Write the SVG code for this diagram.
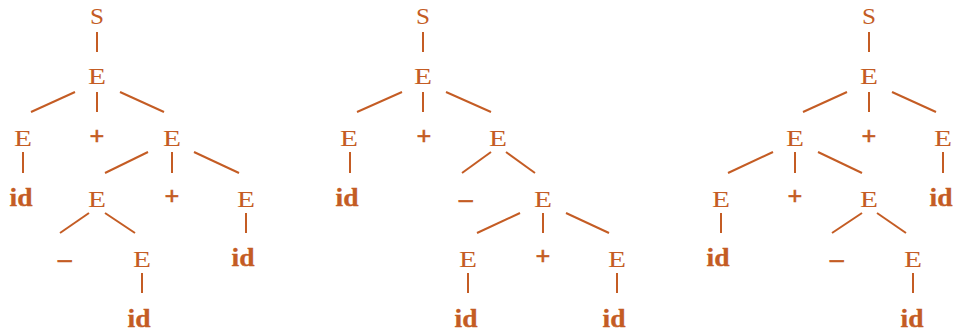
<svg xmlns="http://www.w3.org/2000/svg" width="953" height="333" viewBox="0 0 953 333">
<style>
text{font-family:"Liberation Serif","Times New Roman",serif;fill:#c45c24;text-anchor:middle}
.n{font-size:23px}
.b{font-size:25px;font-weight:bold;stroke:#c45c24;stroke-width:0.3px}
.o{font-size:26px;font-weight:bold;stroke:#c45c24;stroke-width:0.6px}
#edges line{stroke:#c45c24;stroke-width:2}
</style>
<rect width="953" height="333" fill="#fff"/>
<g id="edges">
<line x1="97" y1="32" x2="97" y2="52"/>
<line x1="75" y1="92" x2="31" y2="112"/>
<line x1="97" y1="92" x2="97" y2="112"/>
<line x1="120" y1="92" x2="164" y2="112"/>
<line x1="23" y1="152" x2="23" y2="173"/>
<line x1="148" y1="152" x2="105" y2="173"/>
<line x1="172" y1="152" x2="172" y2="173"/>
<line x1="194" y1="152" x2="239" y2="173"/>
<line x1="89" y1="213" x2="60" y2="233"/>
<line x1="105" y1="213" x2="135" y2="233"/>
<line x1="246" y1="213" x2="246" y2="233"/>
<line x1="142" y1="273" x2="142" y2="293"/>
<line x1="423" y1="32" x2="423" y2="52"/>
<line x1="402" y1="92" x2="357" y2="112"/>
<line x1="423" y1="92" x2="423" y2="112"/>
<line x1="446" y1="92" x2="491" y2="112"/>
<line x1="350" y1="152" x2="350" y2="173"/>
<line x1="491" y1="152" x2="462" y2="173"/>
<line x1="506" y1="152" x2="535" y2="173"/>
<line x1="520" y1="213" x2="477" y2="233"/>
<line x1="543" y1="213" x2="543" y2="233"/>
<line x1="566" y1="213" x2="609" y2="233"/>
<line x1="468" y1="273" x2="468" y2="293"/>
<line x1="617" y1="273" x2="617" y2="293"/>
<line x1="869" y1="32" x2="869" y2="52"/>
<line x1="847" y1="92" x2="803" y2="112"/>
<line x1="869" y1="92" x2="869" y2="112"/>
<line x1="892" y1="92" x2="936" y2="112"/>
<line x1="943" y1="152" x2="943" y2="173"/>
<line x1="773" y1="152" x2="728" y2="173"/>
<line x1="795" y1="152" x2="795" y2="173"/>
<line x1="818" y1="152" x2="862" y2="173"/>
<line x1="721" y1="213" x2="721" y2="233"/>
<line x1="862" y1="213" x2="832" y2="233"/>
<line x1="877" y1="213" x2="906" y2="233"/>
<line x1="913" y1="273" x2="913" y2="293"/>
</g>
<g id="t1-S"><text class="n" x="97" y="24" textLength="14" lengthAdjust="spacingAndGlyphs">S</text></g>
<g id="t1-E0"><text class="n" x="97" y="84" textLength="18" lengthAdjust="spacingAndGlyphs">E</text></g>
<g id="t1-E1"><text class="n" x="23" y="146" textLength="18" lengthAdjust="spacingAndGlyphs">E</text></g>
<g id="t1-p1"><text class="o" x="97" y="145">+</text></g>
<g id="t1-E2"><text class="n" x="172" y="146" textLength="18" lengthAdjust="spacingAndGlyphs">E</text></g>
<g id="t1-id1"><text class="b" x="21" y="206" textLength="23" lengthAdjust="spacingAndGlyphs">id</text></g>
<g id="t1-E3"><text class="n" x="97" y="207" textLength="18" lengthAdjust="spacingAndGlyphs">E</text></g>
<g id="t1-p2"><text class="o" x="172" y="205">+</text></g>
<g id="t1-E4"><text class="n" x="246" y="207" textLength="18" lengthAdjust="spacingAndGlyphs">E</text></g>
<g id="t1-m"><text class="o" x="65" y="270" textLength="17" lengthAdjust="spacingAndGlyphs">−</text></g>
<g id="t1-E5"><text class="n" x="142" y="267" textLength="18" lengthAdjust="spacingAndGlyphs">E</text></g>
<g id="t1-id2"><text class="b" x="243" y="266" textLength="23" lengthAdjust="spacingAndGlyphs">id</text></g>
<g id="t1-id3"><text class="b" x="139" y="327" textLength="23" lengthAdjust="spacingAndGlyphs">id</text></g>
<g id="t2-S"><text class="n" x="423" y="24" textLength="14" lengthAdjust="spacingAndGlyphs">S</text></g>
<g id="t2-E0"><text class="n" x="423" y="84" textLength="18" lengthAdjust="spacingAndGlyphs">E</text></g>
<g id="t2-E1"><text class="n" x="349" y="146" textLength="18" lengthAdjust="spacingAndGlyphs">E</text></g>
<g id="t2-p1"><text class="o" x="424" y="145">+</text></g>
<g id="t2-E2"><text class="n" x="498" y="146" textLength="18" lengthAdjust="spacingAndGlyphs">E</text></g>
<g id="t2-id1"><text class="b" x="347" y="206" textLength="23" lengthAdjust="spacingAndGlyphs">id</text></g>
<g id="t2-m"><text class="o" x="466" y="210" textLength="17" lengthAdjust="spacingAndGlyphs">−</text></g>
<g id="t2-E3"><text class="n" x="543" y="207" textLength="18" lengthAdjust="spacingAndGlyphs">E</text></g>
<g id="t2-E4"><text class="n" x="468" y="267" textLength="18" lengthAdjust="spacingAndGlyphs">E</text></g>
<g id="t2-p2"><text class="o" x="543" y="265">+</text></g>
<g id="t2-E5"><text class="n" x="617" y="267" textLength="18" lengthAdjust="spacingAndGlyphs">E</text></g>
<g id="t2-id2"><text class="b" x="466" y="327" textLength="23" lengthAdjust="spacingAndGlyphs">id</text></g>
<g id="t2-id3"><text class="b" x="614" y="327" textLength="23" lengthAdjust="spacingAndGlyphs">id</text></g>
<g id="t3-S"><text class="n" x="869" y="24" textLength="14" lengthAdjust="spacingAndGlyphs">S</text></g>
<g id="t3-E0"><text class="n" x="869" y="84" textLength="18" lengthAdjust="spacingAndGlyphs">E</text></g>
<g id="t3-E1"><text class="n" x="795" y="146" textLength="18" lengthAdjust="spacingAndGlyphs">E</text></g>
<g id="t3-p1"><text class="o" x="869" y="145">+</text></g>
<g id="t3-E2"><text class="n" x="943" y="146" textLength="18" lengthAdjust="spacingAndGlyphs">E</text></g>
<g id="t3-E3"><text class="n" x="721" y="207" textLength="18" lengthAdjust="spacingAndGlyphs">E</text></g>
<g id="t3-p2"><text class="o" x="795" y="205">+</text></g>
<g id="t3-E4"><text class="n" x="869" y="207" textLength="18" lengthAdjust="spacingAndGlyphs">E</text></g>
<g id="t3-id1"><text class="b" x="941" y="206" textLength="23" lengthAdjust="spacingAndGlyphs">id</text></g>
<g id="t3-id2"><text class="b" x="718" y="266" textLength="23" lengthAdjust="spacingAndGlyphs">id</text></g>
<g id="t3-m"><text class="o" x="837" y="270" textLength="17" lengthAdjust="spacingAndGlyphs">−</text></g>
<g id="t3-E5"><text class="n" x="913" y="267" textLength="18" lengthAdjust="spacingAndGlyphs">E</text></g>
<g id="t3-id3"><text class="b" x="912" y="327" textLength="23" lengthAdjust="spacingAndGlyphs">id</text></g>
</svg>
